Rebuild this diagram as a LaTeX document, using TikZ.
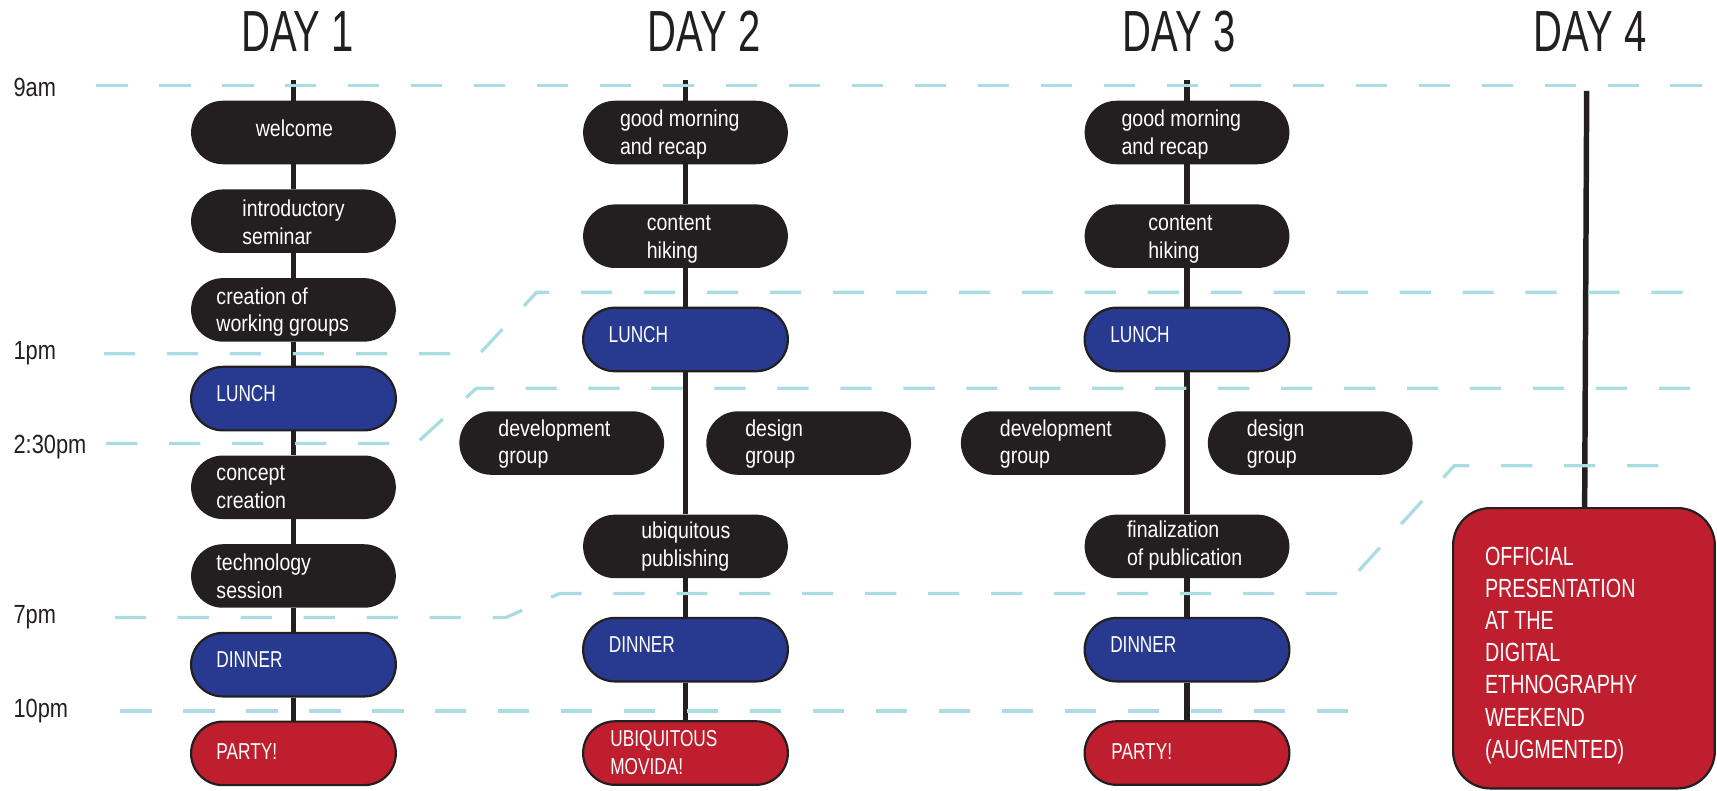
\documentclass[tikz,border=0pt]{standalone}
\usepackage{fontspec}
\setmainfont{Liberation Sans}
\newfontfamily\lcf[FakeStretch=0.85]{Liberation Sans}
\newfontfamily\ucf[FakeStretch=0.75]{Liberation Sans}
\newfontfamily\ttlf[FakeStretch=0.69]{Liberation Sans}
\newfontfamily\tmf[FakeStretch=0.83]{Liberation Sans}
\usetikzlibrary{backgrounds}
\definecolor{ink}{HTML}{231F20}
\definecolor{navy}{HTML}{283A90}
\definecolor{crimson}{HTML}{BE1E2D}
\definecolor{sky}{HTML}{A9DCE3}
\tikzset{
  pill/.style={rectangle, rounded corners=29pt, minimum width=187pt, minimum height=58pt, inner sep=0pt},
  darkpill/.style={pill, fill=ink},
  bluepill/.style={pill, fill=navy, draw=ink, line width=2pt},
  redpill/.style={pill, fill=crimson, draw=ink, line width=2pt},
  lbl/.style={text=white, inner sep=0pt, anchor=west, align=left, font=\lcf\fontsize{21}{25.5}\selectfont},
  ulbl/.style={lbl, font=\ucf\fontsize{21}{25.5}\selectfont},
  biglbl/.style={text=white, inner sep=0pt, anchor=north west, align=left, font=\ucf\fontsize{24}{29.4}\selectfont},
  colline/.style={draw=ink, line width=5pt},
  timeline/.style={draw=sky, line width=3pt, dash pattern=on 28.5pt off 29pt},
  daytitle/.style={anchor=base, inner sep=0pt, text=ink, font=\ttlf\fontsize{53}{60}\selectfont},
  timelbl/.style={anchor=base west, inner sep=0pt, text=ink, font=\tmf\fontsize{24}{28}\selectfont},
}
\begin{document}
\begin{tikzpicture}[x=1pt, y=-1pt]
\useasboundingbox (0,0) rectangle (1568,722);
% titles
\node[daytitle] (t1) at (271.7,47) {DAY 1};
\node[daytitle] (t2) at (643,47) {DAY 2};
\node[daytitle] (t3) at (1076.8,47) {DAY 3};
\node[daytitle] (t4) at (1452,47) {DAY 4};
% time labels
\node[timelbl] (h9) at (12.2,88) {9am};
\node[timelbl] (h13) at (12.2,328) {1pm};
\node[timelbl] (h1430) at (12.2,414) {2:30pm};
\node[timelbl] (h19) at (12.2,569) {7pm};
\node[timelbl] (h22) at (12.2,655) {10pm};
% Day 1
\node[darkpill] (d1a) at (268,121) {};
\node[lbl] (d1at) at (233.4,117.6) {welcome};
\node[darkpill] (d1b) at (268,202) {};
\node[lbl] (d1bt) at (221.2,203) {introductory\\seminar};
\node[darkpill] (d1c) at (268,283) {};
\node[lbl] (d1ct) at (197.5,285) {creation of\\working groups};
\node[bluepill] (d1d) at (268,364) {};
\node[ulbl] (d1dt) at (197.5,359.5) {LUNCH};
\node[darkpill] (d1e) at (268,445) {};
\node[lbl] (d1et) at (197.5,444.8) {concept\\creation};
\node[darkpill] (d1f) at (268,526) {};
\node[lbl] (d1ft) at (197.5,525.9) {technology\\session};
\node[bluepill] (d1g) at (268,607) {};
\node[ulbl] (d1gt) at (197.5,602.7) {DINNER};
\node[redpill] (d1h) at (268,688) {};
\node[ulbl] (d1ht) at (197.5,686) {PARTY!};
% Day 2
\node[darkpill] (d2a) at (626,121) {};
\node[lbl] (d2at) at (566,122.5) {good morning\\and recap};
\node[darkpill] (d2b) at (626,215.7) {};
\node[lbl] (d2bt) at (590.5,218.5) {content\\hiking};
\node[bluepill] (d2c) at (626,310) {};
\node[ulbl] (d2ct) at (555.7,305.6) {LUNCH};
\node[darkpill] (d2d) at (513,404.6) {};
\node[lbl] (d2dt) at (455,405.5) {development\\group};
\node[darkpill] (d2e) at (738.5,404.6) {};
\node[lbl] (d2et) at (680.4,405.5) {design\\group};
\node[darkpill] (d2f) at (626,499) {};
\node[lbl] (d2ft) at (585.4,499) {ubiquitous\\publishing};
\node[bluepill] (d2g) at (626,593.3) {};
\node[ulbl] (d2gt) at (555.8,589) {DINNER};
\node[redpill] (d2h) at (626,687.7) {};
\node[ulbl] (d2ht) at (557.2,687.4) {UBIQUITOUS\\MOVIDA!};
% Day 3
\node[darkpill] (d3a) at (1084,121) {};
\node[lbl] (d3at) at (1024,122.5) {good morning\\and recap};
\node[darkpill] (d3b) at (1084,215.7) {};
\node[lbl] (d3bt) at (1048.5,218.5) {content\\hiking};
\node[bluepill] (d3c) at (1084,310) {};
\node[ulbl] (d3ct) at (1013.7,305.6) {LUNCH};
\node[darkpill] (d3d) at (971,404.6) {};
\node[lbl] (d3dt) at (913,405.5) {development\\group};
\node[darkpill] (d3e) at (1196.5,404.6) {};
\node[lbl] (d3et) at (1138.4,405.5) {design\\group};
\node[darkpill] (d3f) at (1084,499) {};
\node[lbl] (d3ft) at (1029,498.4) {finalization\\of publication};
\node[bluepill] (d3g) at (1084,593.3) {};
\node[ulbl] (d3gt) at (1013.7,589) {DINNER};
\node[redpill] (d3h) at (1084,687.7) {};
\node[ulbl] (d3ht) at (1014.7,686.5) {PARTY!};
% Day 4
\node[rectangle, rounded corners=34pt, minimum width=239pt, minimum height=256pt, inner sep=0pt, fill=crimson, draw=ink, line width=2pt] (d4box) at (1446.5,592) {};
\node[biglbl] (d4t) at (1356,499.2) {OFFICIAL\\PRESENTATION\\AT THE\\DIGITAL\\ETHNOGRAPHY\\WEEKEND\\(AUGMENTED)};
\begin{scope}[on background layer]
  \coordinate (d1top) at (268,73);
  \coordinate (d2top) at (626,73);
  \coordinate (d3top) at (1084,73);
  \coordinate (d4top) at (1449,83);
  \draw[colline] (d1top) -- (d1a) -- (d1b) -- (d1c) -- (d1d) -- (d1e) -- (d1f) -- (d1g) -- (d1h);
  \draw[colline] (d2top) -- (d2a) -- (d2b) -- (d2c) -- (d2f) -- (d2g) -- (d2h);
  \draw[colline] (d3top) -- (d3a) -- (d3b) -- (d3c) -- (d3f) -- (d3g) -- (d3h);
  \draw[colline] (d4top) -- (d4box);
  % time grid
  \draw[timeline] (88,78) -- (1558,78);
  \draw[timeline] (95,323) -- (438,323) -- (490,267) -- (1558,267);
  \draw[timeline] (97,405) -- (380,405) -- (435,354.6) -- (1558,354.6);
  \draw[timeline] (104.8,564) -- (462,564) -- (511,542) -- (1222,542) -- (1328,425.3) -- (1540,425.3);
  \draw[timeline] (110,649.3) -- (1250,649.3);
\end{scope}
\end{tikzpicture}
\end{document}
